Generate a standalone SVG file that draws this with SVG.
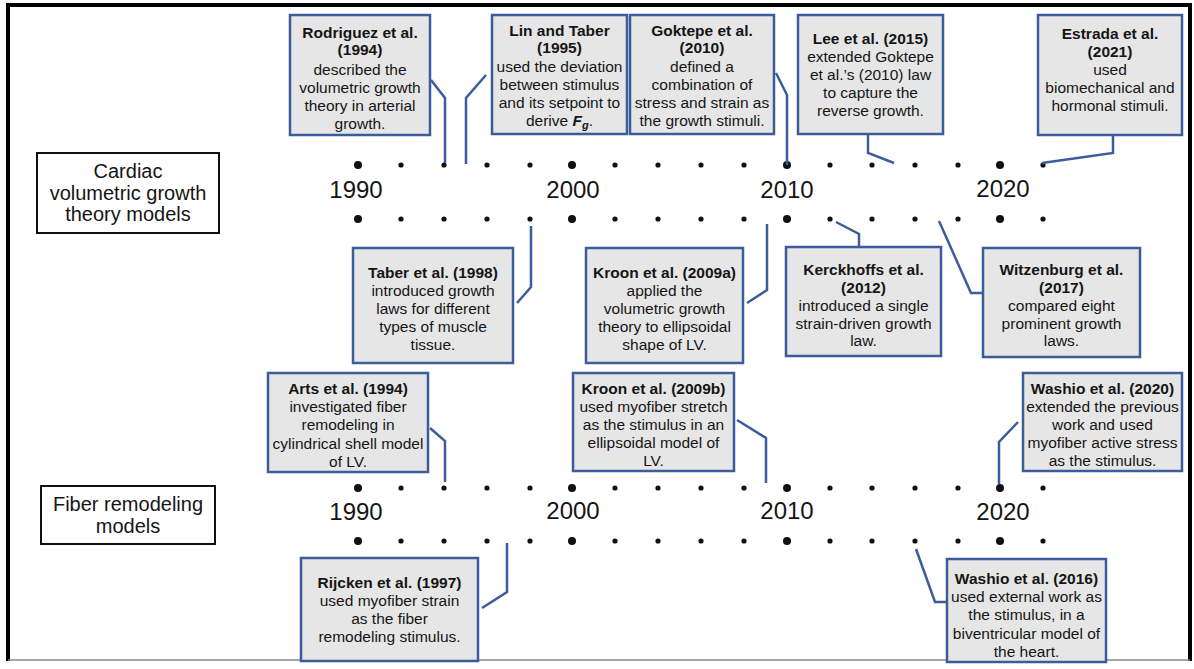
<svg xmlns="http://www.w3.org/2000/svg" width="1194" height="669" viewBox="0 0 1194 669">
<style>
text{font-family:"Liberation Sans",Arial,sans-serif;fill:#151515;text-anchor:middle}
.t{font-size:15.5px}
.b{font-weight:bold}
.cat{font-size:20px}
.yr{font-size:24px}
.box{fill:#e6e6e6;stroke:#3d5c9b;stroke-width:2.5}
.cbox{fill:#fff;stroke:#111;stroke-width:2}
.con{fill:none;stroke:#3d5c9b;stroke-width:2.5}
.d{fill:#111}
</style>
<defs>
<g id="row">
<circle class="d" cx="358" cy="0" r="4"/>
<circle class="d" cx="401" cy="0" r="2.6"/>
<circle class="d" cx="444" cy="0" r="2.6"/>
<circle class="d" cx="487" cy="0" r="2.6"/>
<circle class="d" cx="530" cy="0" r="2.6"/>
<circle class="d" cx="572" cy="0" r="4"/>
<circle class="d" cx="615" cy="0" r="2.6"/>
<circle class="d" cx="658" cy="0" r="2.6"/>
<circle class="d" cx="701" cy="0" r="2.6"/>
<circle class="d" cx="744" cy="0" r="2.6"/>
<circle class="d" cx="787" cy="0" r="4"/>
<circle class="d" cx="830" cy="0" r="2.6"/>
<circle class="d" cx="872" cy="0" r="2.6"/>
<circle class="d" cx="915" cy="0" r="2.6"/>
<circle class="d" cx="958" cy="0" r="2.6"/>
<circle class="d" cx="1000" cy="0" r="4"/>
<circle class="d" cx="1043" cy="0" r="2.6"/>
</g>
</defs>
<rect width="1194" height="669" fill="#fff"/>
<path d="M8,661 L8,5 L1190,5 L1190,661" fill="none" stroke="#000" stroke-width="4"/>
<line x1="8" y1="660" x2="1190" y2="660" stroke="#888" stroke-width="1.5"/>

<g id="timeline1">
<use href="#row" y="165"/>
<use href="#row" y="219"/>
<text class="yr" x="356" y="198">1990</text>
<text class="yr" x="573" y="198">2000</text>
<text class="yr" x="787" y="198">2010</text>
<text class="yr" x="1003" y="197">2020</text>
</g>
<g id="timeline2">
<use href="#row" y="488"/>
<use href="#row" y="541"/>
<text class="yr" x="356" y="520">1990</text>
<text class="yr" x="573" y="519">2000</text>
<text class="yr" x="787" y="519">2010</text>
<text class="yr" x="1003" y="520">2020</text>
</g>

<g id="connectors">
<path class="con" d="M431,80 L445,98 L445,163"/>
<path class="con" d="M486,75 L466,98 L466,164"/>
<path class="con" d="M776,73 L787,95 L787,165"/>
<path class="con" d="M868,134 L868,153 L894,163"/>
<path class="con" d="M1113,134 L1113,153 L1042,163"/>
<path class="con" d="M517,303 L531,287 L531,226"/>
<path class="con" d="M747,303 L767,290 L767,224"/>
<path class="con" d="M859,248 L859,234 L836,222"/>
<path class="con" d="M983,293 L971,293 L939,221"/>
<path class="con" d="M430,428 L445,441 L445,482"/>
<path class="con" d="M737,420 L766,438 L766,483"/>
<path class="con" d="M1018,422 L999,442 L999,484"/>
<path class="con" d="M482,608 L507,592 L507,543"/>
<path class="con" d="M947,602 L935,602 L916,549"/>
</g>

<g id="cat-cardiac">
<rect class="cbox" x="37" y="153" width="182" height="80"/>
<text class="cat" x="128" y="178">Cardiac</text>
<text class="cat" x="128" y="200">volumetric growth</text>
<text class="cat" x="128" y="221">theory models</text>
</g>
<g id="cat-fiber">
<rect class="cbox" x="41" y="486" width="174" height="58"/>
<text class="cat" x="128" y="511">Fiber remodeling</text>
<text class="cat" x="128" y="533">models</text>
</g>

<g id="rodriguez">
<rect class="box" x="290" y="15" width="140" height="120"/>
<text class="t b" x="360" y="38">Rodriguez et al.</text>
<text class="t b" x="360" y="55">(1994)</text>
<text class="t" x="360" y="75">described the</text>
<text class="t" x="360" y="93">volumetric growth</text>
<text class="t" x="360" y="111">theory in arterial</text>
<text class="t" x="360" y="129">growth.</text>
</g>
<g id="lin">
<rect class="box" x="492" y="15" width="135" height="119"/>
<text class="t b" x="559.5" y="36">Lin and Taber</text>
<text class="t b" x="559.5" y="53">(1995)</text>
<text class="t" x="559.5" y="72">used the deviation</text>
<text class="t" x="559.5" y="90">between stimulus</text>
<text class="t" x="559.5" y="108">and its setpoint to</text>
<text class="t" x="559.5" y="126">derive <tspan font-weight="bold" font-style="italic">F</tspan><tspan font-weight="bold" font-style="italic" font-size="11" dy="3">g</tspan><tspan dy="-3">.</tspan></text>
</g>
<g id="goktepe">
<rect class="box" x="630" y="15" width="144" height="119"/>
<text class="t b" x="702" y="36">Goktepe et al.</text>
<text class="t b" x="702" y="53">(2010)</text>
<text class="t" x="702" y="72">defined a</text>
<text class="t" x="702" y="90">combination of</text>
<text class="t" x="702" y="108">stress and strain as</text>
<text class="t" x="702" y="126">the growth stimuli.</text>
</g>
<g id="lee">
<rect class="box" x="798" y="15" width="145" height="119"/>
<text class="t b" x="870.5" y="44">Lee et al. (2015)</text>
<text class="t" x="870.5" y="62">extended Goktepe</text>
<text class="t" x="870.5" y="80">et al.’s (2010) law</text>
<text class="t" x="870.5" y="98">to capture the</text>
<text class="t" x="870.5" y="116">reverse growth.</text>
</g>
<g id="estrada">
<rect class="box" x="1038" y="15" width="144" height="120"/>
<text class="t b" x="1110" y="39">Estrada et al.</text>
<text class="t b" x="1110" y="57">(2021)</text>
<text class="t" x="1110" y="75">used</text>
<text class="t" x="1110" y="93">biomechanical and</text>
<text class="t" x="1110" y="111">hormonal stimuli.</text>
</g>

<g id="taber">
<rect class="box" x="353" y="248" width="160" height="115"/>
<text class="t b" x="433" y="278">Taber et al. (1998)</text>
<text class="t" x="433" y="296">introduced growth</text>
<text class="t" x="433" y="314">laws for different</text>
<text class="t" x="433" y="332">types of muscle</text>
<text class="t" x="433" y="350">tissue.</text>
</g>
<g id="kroon-a">
<rect class="box" x="586" y="248" width="157" height="115"/>
<text class="t b" x="664.5" y="278">Kroon et al. (2009a)</text>
<text class="t" x="664.5" y="296">applied the</text>
<text class="t" x="664.5" y="314">volumetric growth</text>
<text class="t" x="664.5" y="332">theory to ellipsoidal</text>
<text class="t" x="664.5" y="350">shape of LV.</text>
</g>
<g id="kerckhoffs">
<rect class="box" x="786" y="247" width="155" height="109"/>
<text class="t b" x="863.5" y="275">Kerckhoffs et al.</text>
<text class="t b" x="863.5" y="293">(2012)</text>
<text class="t" x="863.5" y="311">introduced a single</text>
<text class="t" x="863.5" y="329">strain-driven growth</text>
<text class="t" x="863.5" y="346">law.</text>
</g>
<g id="witzenburg">
<rect class="box" x="983" y="248" width="157" height="109"/>
<text class="t b" x="1061.5" y="275">Witzenburg et al.</text>
<text class="t b" x="1061.5" y="293">(2017)</text>
<text class="t" x="1061.5" y="311">compared eight</text>
<text class="t" x="1061.5" y="329">prominent growth</text>
<text class="t" x="1061.5" y="346">laws.</text>
</g>

<g id="arts">
<rect class="box" x="268" y="373" width="160" height="99"/>
<text class="t b" x="348" y="394">Arts et al. (1994)</text>
<text class="t" x="348" y="412">investigated fiber</text>
<text class="t" x="348" y="430">remodeling in</text>
<text class="t" x="348" y="449">cylindrical shell model</text>
<text class="t" x="348" y="467">of LV.</text>
</g>
<g id="kroon-b">
<rect class="box" x="573" y="373" width="161" height="98"/>
<text class="t b" x="653.5" y="394">Kroon et al. (2009b)</text>
<text class="t" x="653.5" y="412">used myofiber stretch</text>
<text class="t" x="653.5" y="430">as the stimulus in an</text>
<text class="t" x="653.5" y="448">ellipsoidal model of</text>
<text class="t" x="653.5" y="466">LV.</text>
</g>
<g id="washio2020">
<rect class="box" x="1023" y="373" width="159" height="98"/>
<text class="t b" x="1102.5" y="394">Washio et al. (2020)</text>
<text class="t" x="1102.5" y="412">extended the previous</text>
<text class="t" x="1102.5" y="430">work and used</text>
<text class="t" x="1102.5" y="448">myofiber active stress</text>
<text class="t" x="1102.5" y="466">as the stimulus.</text>
</g>
<g id="rijcken">
<rect class="box" x="301" y="558" width="177" height="103"/>
<text class="t b" x="389.5" y="588">Rijcken et al. (1997)</text>
<text class="t" x="389.5" y="606">used myofiber strain</text>
<text class="t" x="389.5" y="624">as the fiber</text>
<text class="t" x="389.5" y="642">remodeling stimulus.</text>
</g>
<g id="washio2016">
<rect class="box" x="947" y="559" width="159" height="103"/>
<text class="t b" x="1026.5" y="584">Washio et al. (2016)</text>
<text class="t" x="1026.5" y="602">used external work as</text>
<text class="t" x="1026.5" y="620">the stimulus, in a</text>
<text class="t" x="1026.5" y="639">biventricular model of</text>
<text class="t" x="1026.5" y="657">the heart.</text>
</g>
</svg>
